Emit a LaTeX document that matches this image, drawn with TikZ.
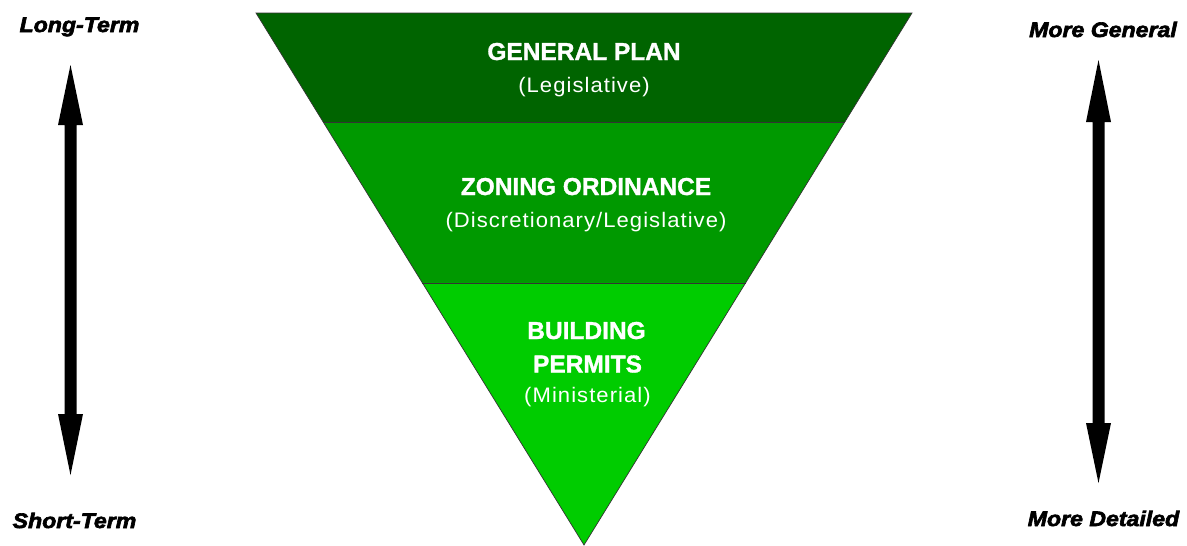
\documentclass[tikz,border=0pt]{standalone}
\usepackage{fontspec}
\usetikzlibrary{calc}
\setmainfont{Liberation Sans}
\newfontfamily\titlefont[FakeBold=1.2]{Liberation Sans}
\newfontfamily\subfont[FakeStretch=1.05,LetterSpace=5]{Liberation Sans}
\newfontfamily\sidefont[FakeBold=3,FakeStretch=1.1]{Liberation Sans}
\definecolor{gdark}{RGB}{0,100,0}
\definecolor{gmid}{RGB}{0,153,0}
\definecolor{glight}{RGB}{0,204,0}
\begin{document}
\begin{tikzpicture}[x=1pt,y=-1pt,
  band/.style={draw=black!80, line width=0.7pt, line join=miter},
  ttl/.style={anchor=base, text=white, inner sep=0pt, font=\titlefont\bfseries\fontsize{24.5}{24.5}\selectfont},
  sub/.style={anchor=base, text=white, inner sep=0pt, font=\subfont\fontsize{21}{21}\selectfont},
  side/.style={anchor=base, inner sep=0pt, font=\sidefont\bfseries\itshape\fontsize{21}{21}\selectfont},
  bigarrow/.style={fill=black, draw=none}]
\useasboundingbox (0,0) rectangle (1187,546);
% triangle corners
\coordinate (TL) at (256,13);
\coordinate (TR) at (912,13);
\coordinate (AP) at (584,545);
\coordinate (L1) at ($(TL)!0.2049!(AP)$);
\coordinate (R1) at ($(TR)!0.2049!(AP)$);
\coordinate (L2) at ($(TL)!0.5075!(AP)$);
\coordinate (R2) at ($(TR)!0.5075!(AP)$);
\fill[gdark] (TL) -- (TR) -- (R1) -- (L1) -- cycle;
\fill[gmid] (L1) -- (R1) -- (R2) -- (L2) -- cycle;
\fill[glight] (L2) -- (R2) -- (AP) -- cycle;
\draw[band] (L1) -- (R1);
\draw[band] (L2) -- (R2);
\draw[band] (TL) -- (TR) -- (AP) -- cycle;
% texts
\node[ttl] (gp) at (584,60) {GENERAL PLAN};
\node[sub] (gps) at (584,92.5) {(Legislative)};
\node[ttl] (zo) at (586,195) {ZONING ORDINANCE};
\node[sub] (zos) at (586,227.5) {(Discretionary/Legislative)};
\node[ttl] (bp1) at (586.5,339) {BUILDING};
\node[ttl] (bp2) at (587.5,372.5) {PERMITS};
\node[sub] (bps) at (587.5,402.5) {(Ministerial)};
% side labels
\node[side] (lt) at (79.5,32) {Long-Term};
\node[side] (st) at (74.5,528) {Short-Term};
\node[side] (mg) at (1103,37) {More General};
\node[side] (md) at (1103.5,526) {More Detailed};
% left arrow
\fill[bigarrow] (70.5,65) -- (83,125) -- (76.5,125) -- (76.5,414) -- (83,414) -- (70.5,475)
  -- (58,414) -- (64.5,414) -- (64.5,125) -- (58,125) -- cycle;
% right arrow
\fill[bigarrow] (1098.5,60) -- (1111,122) -- (1104.5,122) -- (1104.5,423) -- (1111,423) -- (1098.5,483)
  -- (1086,423) -- (1092.5,423) -- (1092.5,122) -- (1086,122) -- cycle;
\end{tikzpicture}
\end{document}
